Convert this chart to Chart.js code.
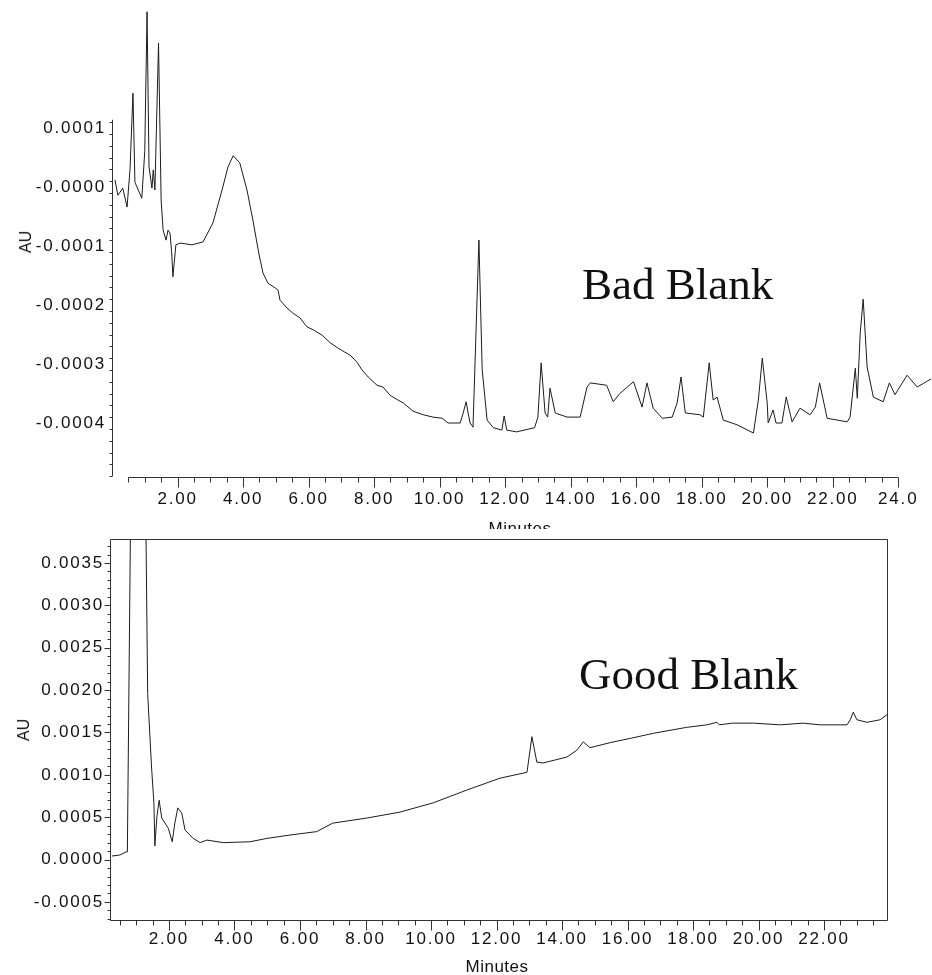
<!DOCTYPE html>
<html>
<head>
<meta charset="utf-8">
<title>Bad Blank / Good Blank</title>
<script src="https://cdn.jsdelivr.net/npm/chart.js@4.4.1/dist/chart.umd.min.js"></script>
<style>
  html, body { margin: 0; padding: 0; background: #fff; }
  #page { position: relative; width: 932px; height: 975px; overflow: hidden;
          font-family: "Liberation Sans", Arial, sans-serif; color: #111; }
  #topWrap { position: absolute; left: 0; top: 0; width: 932px; height: 529px; overflow: hidden; }
  #chartBad { position: absolute; left: 0; top: 0; }
  #chartGood { position: absolute; left: 0; top: 530px; }
  .axis-title { position: absolute; font-size: 17px; line-height: 17px; white-space: nowrap;
                letter-spacing: 0.5px; transform: translateX(-50%); }
  .au { position: absolute; font-size: 16px; line-height: 16px; white-space: nowrap;
        transform: translate(-50%, -50%) rotate(-90deg); }
  .tag { position: absolute; font-family: "Liberation Serif", "Times New Roman", serif;
         font-size: 45px; line-height: 45px; white-space: nowrap; }
</style>
</head>
<body>
<div id="page">
  <div id="topWrap">
    <canvas id="chartBad" width="932" height="529"></canvas>
    <div class="au" style="left:26px; top:242px;">AU</div>
    <div class="axis-title" style="left:520px; top:520px;">Minutes</div>
    <div class="tag" style="left:582px; top:262px;">Bad Blank</div>
  </div>
  <canvas id="chartGood" width="932" height="445"></canvas>
  <div class="au" style="left:24px; top:730px;">AU</div>
  <div class="axis-title" style="left:497px; top:958px;">Minutes</div>
  <div class="tag" style="left:579px; top:652px;">Good Blank</div>
</div>

<script>
'use strict';

/* ── DATA (time in minutes, absorbance in units of 1e-4 AU) ─────── */
var badTime = [0.09, 0.18, 0.33, 0.46, 0.55, 0.64, 0.70, 0.91, 1.00, 1.07,
  1.13, 1.22, 1.26, 1.31, 1.42, 1.50, 1.56, 1.65, 1.71, 1.77,
  1.82, 1.86, 1.95, 2.08, 2.44, 2.78, 3.08, 3.36, 3.54, 3.70,
  3.90, 4.12, 4.30, 4.48, 4.61, 4.76, 4.98, 5.07, 5.13, 5.34,
  5.53, 5.74, 5.95, 6.14, 6.41, 6.66, 6.90, 7.11, 7.27, 7.48,
  7.63, 7.82, 8.09, 8.27, 8.49, 8.73, 8.89, 9.19, 9.50, 9.80,
  10.08, 10.26, 10.63, 10.72, 10.81, 10.87, 10.93, 11.02, 11.20,
  11.30, 11.45, 11.64, 11.90, 11.97, 12.05, 12.35, 12.90, 13.00, 13.10,
  13.22, 13.30, 13.37, 13.53, 13.89, 14.29, 14.50, 14.60, 15.10, 15.30,
  15.50, 15.92, 16.18, 16.33, 16.52, 16.80, 17.10, 17.25, 17.37, 17.50,
  17.95, 18.05, 18.14, 18.23, 18.35, 18.47, 18.66, 19.08, 19.58, 19.73,
  19.85, 20.00, 20.03, 20.18, 20.27, 20.45, 20.58, 20.76, 21.00, 21.31,
  21.47, 21.60, 21.83, 22.44, 22.53, 22.69, 22.75, 22.84, 22.93, 23.05,
  23.24, 23.54, 23.73, 23.90, 24.27, 24.58, 25.04];
var badAU = [0.12, -0.14, -0.02, -0.34, 0.30, 1.59, 0.08, -0.19, 0.60, 2.97,
  0.34, -0.02, 0.29, -0.05, 2.44, -0.22, -0.73, -0.90, -0.73, -0.78,
  -1.10, -1.52, -0.98, -0.95, -0.98, -0.93, -0.61, -0.05, 0.34, 0.53,
  0.41, -0.05, -0.56, -1.12, -1.46, -1.63, -1.71, -1.75, -1.92, -2.05,
  -2.14, -2.22, -2.37, -2.42, -2.51, -2.64, -2.73, -2.80, -2.85, -2.97,
  -3.10, -3.22, -3.36, -3.39, -3.53, -3.61, -3.66, -3.80, -3.86, -3.90,
  -3.92, -4.00, -4.00, -3.83, -3.64, -3.83, -4.00, -4.07, -0.90,
  -3.10, -3.95, -4.08, -4.12, -3.88, -4.12, -4.15, -4.08, -3.90, -2.98,
  -3.83, -3.90, -3.41, -3.83, -3.90, -3.90, -3.39, -3.32, -3.36, -3.64,
  -3.50, -3.30, -3.73, -3.32, -3.75, -3.92, -3.90, -3.66, -3.22, -3.83,
  -3.86, -3.90, -3.44, -2.98, -3.61, -3.56, -3.95, -4.03, -4.17, -3.61,
  -2.90, -3.66, -4.00, -3.78, -4.00, -4.00, -3.56, -3.98, -3.75, -3.86,
  -3.73, -3.32, -3.92, -3.98, -3.90, -3.07, -3.58, -2.47, -1.90, -3.05,
  -3.56, -3.64, -3.32, -3.52, -3.19, -3.39, -3.24];

var goodTime = [0.26, 0.50, 0.69, 0.73, 1.05, 1.35, 1.47, 1.54, 1.57, 1.63,
  1.70, 1.78, 1.98, 2.10, 2.18, 2.27, 2.39, 2.49, 2.74, 2.95,
  3.16, 3.66, 4.47, 4.99, 5.70, 6.51, 7.00, 8.04, 9.05, 10.07,
  11.09, 12.10, 12.93, 13.08, 13.23, 13.42, 14.15, 14.45, 14.65, 14.85,
  15.47, 16.08, 16.79, 17.36, 17.80, 18.42, 18.73, 18.80, 19.20, 19.84,
  20.66, 21.36, 21.88, 22.70, 22.80, 22.89, 23.00, 23.31, 23.71, 23.92];
var goodAU = [0.42, 0.54, 0.90, 0.90, 130.0, 19.6, 10.8, 6.7, 1.6, 5.0,
  7.0, 4.9, 3.7, 2.1, 4.3, 6.1, 5.5, 3.5, 2.5, 2.0,
  2.3, 2.0, 2.1, 2.5, 2.9, 3.3, 4.3, 4.9, 5.6, 6.7,
  8.2, 9.6, 10.3, 14.5, 11.5, 11.4, 12.1, 12.9, 13.9, 13.2,
  13.8, 14.3, 14.9, 15.3, 15.6, 15.9, 16.2, 15.9, 16.1, 16.1,
  15.9, 16.1, 15.9, 15.9, 16.5, 17.4, 16.5, 16.2, 16.5, 17.1];

var badXTicks  = [2, 4, 6, 8, 10, 12, 14, 16, 18, 20, 22, 24];
var badYTicks  = [1, 0, -1, -2, -3, -4];
var goodXTicks = [2, 4, 6, 8, 10, 12, 14, 16, 18, 20, 22];
var goodYTicks = [35, 30, 25, 20, 15, 10, 5, 0, -5];

var INK = '#1c1c1c';
var TICK_FONT = { family: '"Liberation Sans", Arial, sans-serif', size: 17 };

/* ── HELPERS ───────────────────────────────────────────────────── */
function toPoints(xs, ys) {
  return xs.map(function(x, i) { return { x: x, y: ys[i] }; });
}

function isMultiple(v, step) {
  var q = v / step;
  return Math.abs(q - Math.round(q)) < 1e-6;
}

/* keep the plot area exactly where the layout padding puts it */
function noScalePadding(s) {
  s.paddingTop = 0; s.paddingBottom = 0; s.paddingLeft = 0; s.paddingRight = 0;
}

/* wide tick lettering like the instrument printout */
var spacingPlugin = {
  id: 'spacing',
  beforeDraw: function(chart) { chart.ctx.letterSpacing = '1.8px'; },
  afterDraw: function(chart) { chart.ctx.letterSpacing = '0px'; }
};

/* axis lines + major/minor tick marks, placed through the chart scales */
var axesPlugin = {
  id: 'axes',
  afterDatasetsDraw: function(chart, args, o) {
    var ctx = chart.ctx, xs = chart.scales.x, ys = chart.scales.y, a = chart.chartArea;
    var yb = Math.round(a.bottom) + 0.5;
    var xl = Math.round(a.left) + 0.5;
    var i, n, v, p, len;

    ctx.save();
    ctx.strokeStyle = '#333';
    ctx.lineWidth = 1;
    ctx.beginPath();

    if (o.frame) {
      ctx.rect(xl, Math.round(a.top) + 0.5, Math.round(a.right - a.left), Math.round(a.bottom - a.top));
    } else {
      ctx.moveTo(xs.getPixelForValue(o.xFrom), yb);
      ctx.lineTo(xs.getPixelForValue(o.xTo), yb);
      ctx.moveTo(xl, ys.getPixelForValue(o.yFrom));
      ctx.lineTo(xl, ys.getPixelForValue(o.yTo));
    }

    n = Math.round((o.xTo - o.xFrom) / o.xMinor);
    for (i = 0; i <= n; i++) {
      v = o.xFrom + i * o.xMinor;
      p = Math.round(xs.getPixelForValue(v)) + 0.5;
      len = isMultiple(v, o.xMajor) ? 10 : 5;
      ctx.moveTo(p, yb);
      ctx.lineTo(p, yb + len);
    }

    n = Math.round((o.yFrom - o.yTo) / o.yMinor);
    for (i = 0; i <= n; i++) {
      v = o.yTo + i * o.yMinor;
      p = Math.round(ys.getPixelForValue(v)) + 0.5;
      len = isMultiple(v, o.yMajor) ? 6 : 3;
      ctx.moveTo(xl, p);
      ctx.lineTo(xl - len, p);
    }

    ctx.stroke();
    ctx.restore();
  }
};

/* ── CHART FACTORY ─────────────────────────────────────────────── */
function makeChart(id, cfg) {
  return new Chart(document.getElementById(id), {
    type: 'line',
    data: {
      datasets: [{
        data: toPoints(cfg.time, cfg.au),
        borderColor: INK,
        borderWidth: 1,
        pointRadius: 0,
        tension: 0,
        fill: false
      }]
    },
    plugins: [spacingPlugin, axesPlugin],
    options: {
      responsive: false,
      devicePixelRatio: 1,
      animation: false,
      events: [],
      layout: { padding: cfg.padding },
      scales: {
        x: {
          type: 'linear',
          min: cfg.xMin, max: cfg.xMax,
          grid: { display: false, drawTicks: false },
          border: { display: false },
          afterBuildTicks: function(s) { s.ticks = cfg.xTicks.map(function(v) { return { value: v }; }); },
          afterFit: function(s) { s.height = cfg.xHeight; noScalePadding(s); },
          ticks: {
            font: TICK_FONT, color: '#111', padding: cfg.xPad, maxRotation: 0, autoSkip: false,
            callback: function(v) { return v === 24 ? '24.0' : Number(v).toFixed(2); }
          }
        },
        y: {
          min: cfg.yMin, max: cfg.yMax,
          grid: { display: false, drawTicks: false },
          border: { display: false },
          afterBuildTicks: function(s) { s.ticks = cfg.yTicks.map(function(v) { return { value: v }; }); },
          afterFit: function(s) { s.width = cfg.yWidth; noScalePadding(s); },
          ticks: {
            font: TICK_FONT, color: '#111', padding: 6,
            callback: cfg.yLabel
          }
        }
      },
      plugins: {
        legend: { display: false },
        tooltip: { enabled: false },
        axes: cfg.axes
      }
    }
  });
}

/* ── BAD BLANK ─────────────────────────────────────────────────── */
makeChart('chartBad', {
  time: badTime, au: badAU,
  xMin: 0, xMax: 25, yMin: -4.915, yMax: 3.034,
  xTicks: badXTicks, yTicks: badYTicks,
  padding: { top: 8, right: 1, bottom: 0, left: 0 },
  xHeight: 52, yWidth: 112, xPad: 12,
  yLabel: function(v) { return v === 0 ? '-0.0000' : (v / 10000).toFixed(4); },
  axes: { frame: false, xFrom: 0.5, xTo: 24, xMinor: 0.5, xMajor: 2,
          yFrom: 1.14, yTo: -4.9, yMinor: 0.2, yMajor: 1 }
});

/* ── GOOD BLANK ────────────────────────────────────────────────── */
makeChart('chartGood', {
  time: goodTime, au: goodAU,
  xMin: 0.2, xMax: 23.92, yMin: -7.13, yMax: 37.83,
  xTicks: goodXTicks, yTicks: goodYTicks,
  padding: { top: 9, right: 45, bottom: 0, left: 0 },
  xHeight: 55, yWidth: 110, xPad: 9,
  yLabel: function(v) { return (v / 10000).toFixed(4); },
  axes: { frame: true, xFrom: 0.5, xTo: 23.5, xMinor: 0.5, xMajor: 2,
          yFrom: 37, yTo: -7, yMinor: 1, yMajor: 5 }
});
</script>
</body>
</html>
